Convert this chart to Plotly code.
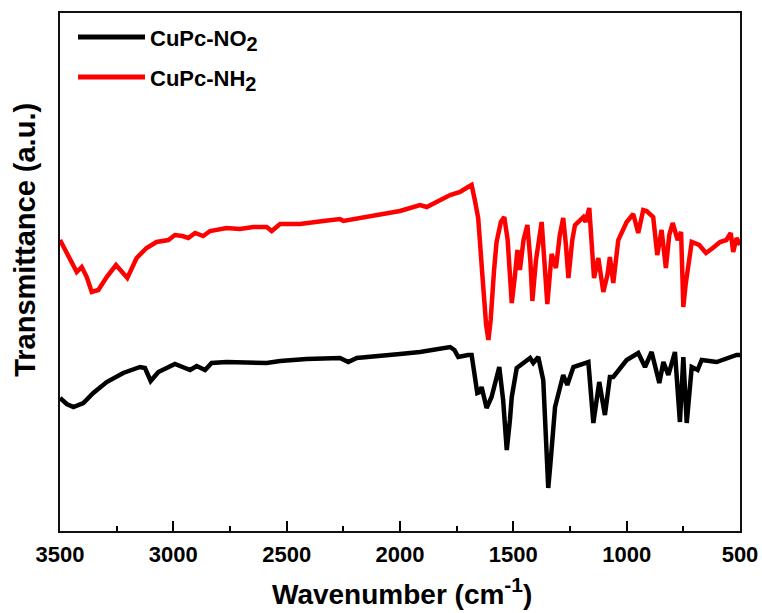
import plotly.graph_objects as go

# FTIR spectra (arbitrary transmittance units, curves offset vertically)
nh2_wavenumber = [3500, 3463, 3426, 3404, 3382, 3360, 3331, 3294, 3253, 3203, 3162, 3118, 3074,
                  3022, 2993, 2960, 2934, 2904, 2868, 2838, 2765, 2706, 2647, 2588, 2566, 2529,
                  2441, 2338, 2265, 2250, 2118, 2000, 1912, 1882, 1779, 1735, 1700, 1684, 1670,
                  1655, 1635, 1620, 1610, 1600, 1585, 1574, 1555, 1540, 1525, 1515, 1507, 1495,
                  1482, 1471, 1455, 1438, 1425, 1416, 1400, 1375, 1362, 1350, 1331, 1312, 1295,
                  1280, 1268, 1257, 1240, 1228, 1191, 1181, 1165, 1155, 1144, 1125, 1103, 1085,
                  1074, 1059, 1037, 1000, 971, 949, 927, 912, 883, 865, 846, 827, 812, 797, 775,
                  760, 750, 740, 732, 713, 680, 650, 620, 588, 560, 541, 530, 515, 500]
nh2_signal = [277, 260, 245, 250, 240, 225, 227, 240, 252, 239, 259, 269, 275,
              277, 282, 281, 279, 284, 281, 286, 289, 288, 290, 290, 286, 293,
              293, 296, 298, 296, 301, 306, 312, 310, 322, 325, 330, 332, 317,
              299, 237, 192, 177, 197, 247, 275, 295, 300, 277, 232, 214, 237,
              267, 247, 277, 292, 257, 216, 257, 295, 257, 213, 263, 249, 282,
              299, 272, 239, 277, 292, 300, 295, 309, 277, 239, 259, 225, 242,
              260, 234, 277, 295, 303, 284, 307, 306, 300, 262, 287, 249, 282, 294, 277,
              285, 210, 232, 247, 275, 272, 264, 269, 275, 277, 284, 265, 279, 272]

no2_wavenumber = [3500, 3470, 3441, 3397, 3353, 3294, 3221, 3147, 3125, 3100, 3066, 2993, 2926,
                  2897, 2860, 2831, 2765, 2676, 2588, 2529, 2412, 2265, 2228, 2191, 2059, 2000,
                  1912, 1779, 1760, 1743, 1700, 1684, 1659, 1648, 1640, 1618, 1596, 1562, 1545,
                  1529, 1515, 1507, 1485, 1426, 1412, 1390, 1368, 1355, 1346, 1335, 1316, 1280,
                  1262, 1235, 1169, 1147, 1121, 1096, 1074, 1059, 1000, 949, 919, 890, 856, 838,
                  816, 787, 765, 750, 735, 713, 687, 669, 603, 515, 500]
no2_signal = [119, 113, 110, 114, 124, 135, 144, 150, 149, 136, 145, 153, 147,
              151, 147, 154, 155, 154, 154, 156, 158, 159, 155, 159, 161, 163,
              165, 170, 167, 160, 162, 162, 124, 125, 130, 109, 120, 150, 117,
              67, 97, 120, 149, 159, 154, 160, 137, 77, 29, 57, 110, 142,
              132, 150, 155, 94, 135, 102, 140, 140, 157, 164, 150, 165, 134, 155,
              142, 165, 95, 160, 94, 150, 147, 157, 155, 162, 162]

x_ticks = [3500, 3000, 2500, 2000, 1500, 1000, 500]
x_minor_ticks = [3250, 2750, 2250, 1750, 1250, 750]
series_names = ["CuPc-NO", "CuPc-NH"]
series_colors = ["#000000", "#ff0000"]

FONT = "Liberation Sans, Arial, sans-serif"

fig = go.Figure()
fig.add_trace(go.Scatter(x=no2_wavenumber, y=no2_signal, mode="lines",
                         name="CuPc-NO2", line=dict(color=series_colors[0], width=4.5),
                         showlegend=False))
fig.add_trace(go.Scatter(x=nh2_wavenumber, y=nh2_signal, mode="lines",
                         name="CuPc-NH2", line=dict(color=series_colors[1], width=4.5),
                         showlegend=False))

# legend: short line + label for each series
legend_y = [0.9537, 0.8764]
for name, color, ly in zip(series_names, series_colors, legend_y):
    fig.add_shape(type="line", xref="paper", yref="paper",
                  x0=0.0265, x1=0.125, y0=ly, y1=ly,
                  line=dict(color=color, width=5))
    fig.add_annotation(xref="paper", yref="paper", x=0.130, y=ly - 0.006,
                       xanchor="left", yanchor="middle", showarrow=False,
                       text="<b>" + name + "<sub><span style='font-size:20px'>2</span></sub></b>",
                       font=dict(family=FONT, size=22, color="#000000"))

# axis titles
fig.add_annotation(xref="paper", yref="paper", x=-0.0515, y=0.562,
                   xanchor="center", yanchor="middle", showarrow=False, textangle=-90,
                   text="<b>Transmittance (a.u.)</b>",
                   font=dict(family=FONT, size=29, color="#000000"))
fig.add_annotation(xref="paper", yref="paper", x=0.503, y=-0.117,
                   xanchor="center", yanchor="middle", showarrow=False,
                   text="<b>Wavenumber (cm<sup><span style='font-size:21px'>-1</span></sup>)</b>",
                   font=dict(family=FONT, size=28, color="#000000"))

fig.update_layout(
    width=762, height=613,
    margin=dict(l=60, r=22, t=13, b=82),
    paper_bgcolor="white", plot_bgcolor="white",
    font=dict(family=FONT, color="#000000"),
    xaxis=dict(
        range=[3500, 500], tickmode="array", tickvals=x_ticks,
        ticktext=["<b>%d</b>" % v for v in x_ticks],
        tickfont=dict(family=FONT, size=22, color="#000000"),
        ticks="inside", ticklen=10, tickwidth=1.5, tickcolor="#000000",
        minor=dict(tickmode="array", tickvals=x_minor_ticks,
                   ticks="inside", ticklen=5, tickwidth=1.5, tickcolor="#000000"),
        showline=True, linewidth=1.8, linecolor="#111111", mirror=True,
        showgrid=False, zeroline=False, ticklabelstandoff=3, automargin=False,
    ),
    yaxis=dict(
        range=[-14, 504], showticklabels=False, ticks="",
        showline=True, linewidth=1.8, linecolor="#111111", mirror=True,
        showgrid=False, zeroline=False, automargin=False,
    ),
)

fig.write_html("out.html")
